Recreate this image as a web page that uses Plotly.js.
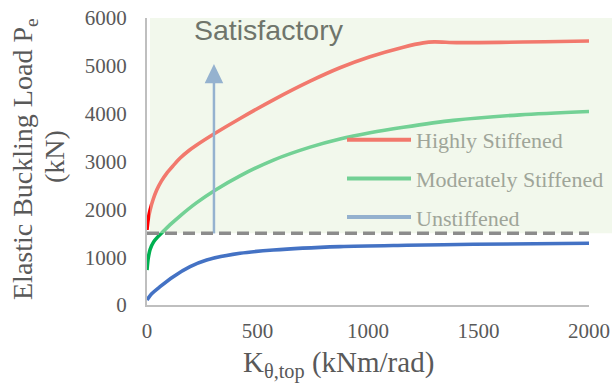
<!DOCTYPE html>
<html>
<head>
<meta charset="utf-8">
<script src="https://cdn.plot.ly/plotly-3.0.1.min.js"></script>
<style>html,body{margin:0;padding:0;background:#fff}#chart{width:612px;height:383px}</style>
</head>
<body>
<div id="chart"></div>
<script>
// ---- data ----
var seriesNames = ["Highly Stiffened", "Moderately Stiffened", "Unstiffened"];

var highX = [0, 5, 14, 28, 44, 65, 89, 120, 149, 190, 225, 308, 421, 572, 738, 873, 1009, 1160, 1250, 1300, 1400, 1600, 1800, 2000];
var highY = [1570, 1780, 1986, 2210, 2404, 2590, 2753, 2920, 3067, 3230, 3345, 3590, 3900, 4290, 4680, 4960, 5190, 5390, 5480, 5500, 5485, 5490, 5505, 5520];

var modX = [0, 5, 14, 30, 50, 75, 110, 149, 225, 308, 421, 572, 738, 873, 1009, 1160, 1386, 1688, 2000];
var modY = [730, 960, 1160, 1320, 1430, 1545, 1700, 1860, 2140, 2400, 2700, 3030, 3300, 3470, 3600, 3715, 3860, 3975, 4045];

var unsX = [0, 20, 59, 119, 195, 270, 421, 572, 873, 1175, 1477, 2000];
var unsY = [105, 230, 383, 592, 801, 941, 1081, 1150, 1220, 1248, 1269, 1290];

var limitLoad = 1500;          // satisfactory threshold (dashed line)
var xTicks = [0, 500, 1000, 1500, 2000];
var yTicks = [0, 1000, 2000, 3000, 4000, 5000, 6000];

// ---- styling ----
var lineColors = ["#ff0000", "#00b050", "#4472c4"];
var legendColors = ["#f2786c", "#72d094", "#94b1ce"]; // as seen through the light-green veil
var curvesX = [highX, modX, unsX];
var curvesY = [highY, modY, unsY];

var traces = [];
for (var i = 0; i < 3; i++) {
  traces.push({
    x: curvesX[i], y: curvesY[i], type: "scatter", mode: "lines",
    line: {color: lineColors[i], width: 3.6, shape: "spline", smoothing: 0.8},
    showlegend: false, hoverinfo: "skip"
  });
}
for (var j = 0; j < 3; j++) {
  traces.push({
    x: [null], y: [null], type: "scatter", mode: "lines", name: seriesNames[j],
    legendgroup: "g" + j,
    line: {color: legendColors[j], width: 4}
  });
}

var serif = "Liberation Serif, Times New Roman, serif";
var W = 442, H = 287, L = 147, T = 18;   // plot area in px
function px2x(p) { return (p - L) / W; }
function px2y(p) { return (T + H - p) / H; }

var layout = {
  width: 612, height: 383,
  margin: {l: L, r: 612 - L - W, t: T, b: 383 - T - H, autoexpand: false},
  paper_bgcolor: "#ffffff", plot_bgcolor: "#ffffff",
  showlegend: true,
  legend: {
    x: px2x(342), y: px2y(119), xanchor: "left", yanchor: "top",
    bgcolor: "rgba(0,0,0,0)", borderwidth: 0,
    font: {family: serif, size: 22, color: "#9fa599"},
    traceorder: "grouped", tracegroupgap: 7, itemwidth: 64
  },
  xaxis: {
    range: [0, 2000], tickvals: xTicks, ticktext: xTicks.map(String),
    showgrid: false, zeroline: false, showline: true, linecolor: "#bfbfbf", linewidth: 2,
    ticks: "", ticklabelstandoff: 6,
    tickfont: {family: serif, size: 21, color: "#595959"}, fixedrange: true
  },
  yaxis: {
    range: [0, 6000], tickvals: yTicks, ticktext: yTicks.map(String),
    showgrid: false, zeroline: false, showline: true, linecolor: "#bfbfbf", linewidth: 2,
    ticks: "", ticklabelstandoff: 14,
    tickfont: {family: serif, size: 21, color: "#595959"}, fixedrange: true
  },
  shapes: [
    // arrow shaft and head (under the veil)
    {type: "line", xref: "x", yref: "y", x0: 303, x1: 303, y0: limitLoad, y1: 4680,
     line: {color: "#4472c4", width: 2.5}, layer: "above"},
    {type: "path", xref: "x", yref: "y", path: "M 261 4635 L 345 4635 L 303 5039 Z",
     fillcolor: "#4472c4", line: {width: 0}, layer: "above"},
    // light green translucent veil over the satisfactory zone
    {type: "rect", xref: "paper", yref: "paper", x0: px2x(150), x1: px2x(614), y0: limitLoad / 6000, y1: 1,
     fillcolor: "rgba(229,241,217,0.5)", line: {width: 0}, layer: "above"},
    // threshold dashed line
    {type: "line", xref: "x", yref: "y", x0: 0, x1: 2000, y0: limitLoad, y1: limitLoad,
     line: {color: "#8c8c8c", width: 3.5, dash: "12px,6px"}, layer: "above"}
  ],
  annotations: [
    {text: "Satisfactory", xref: "paper", yref: "paper", x: px2x(269), y: px2y(30),
     xanchor: "center", yanchor: "middle", showarrow: false,
     font: {family: "Liberation Sans, Arial, sans-serif", size: 28.5, color: "#6f756b"}},
    {text: "Elastic Buckling Load P<sub>e</sub>", xref: "paper", yref: "paper",
     x: px2x(24), y: px2y(159), xanchor: "center", yanchor: "middle",
     textangle: -90, showarrow: false, font: {family: serif, size: 28, color: "#595959"}},
    {text: "(kN)", xref: "paper", yref: "paper",
     x: px2x(54), y: px2y(157), xanchor: "center", yanchor: "middle",
     textangle: -90, showarrow: false, font: {family: serif, size: 28, color: "#595959"}},
    {text: "K<sub>θ,top</sub> (kNm/rad)", xref: "paper", yref: "paper",
     x: px2x(338), y: px2y(364), xanchor: "center", yanchor: "middle",
     showarrow: false, font: {family: serif, size: 29, color: "#595959"}}
  ]
};

Plotly.newPlot("chart", traces, layout, {staticPlot: true, displayModeBar: false});
</script>
</body>
</html>
